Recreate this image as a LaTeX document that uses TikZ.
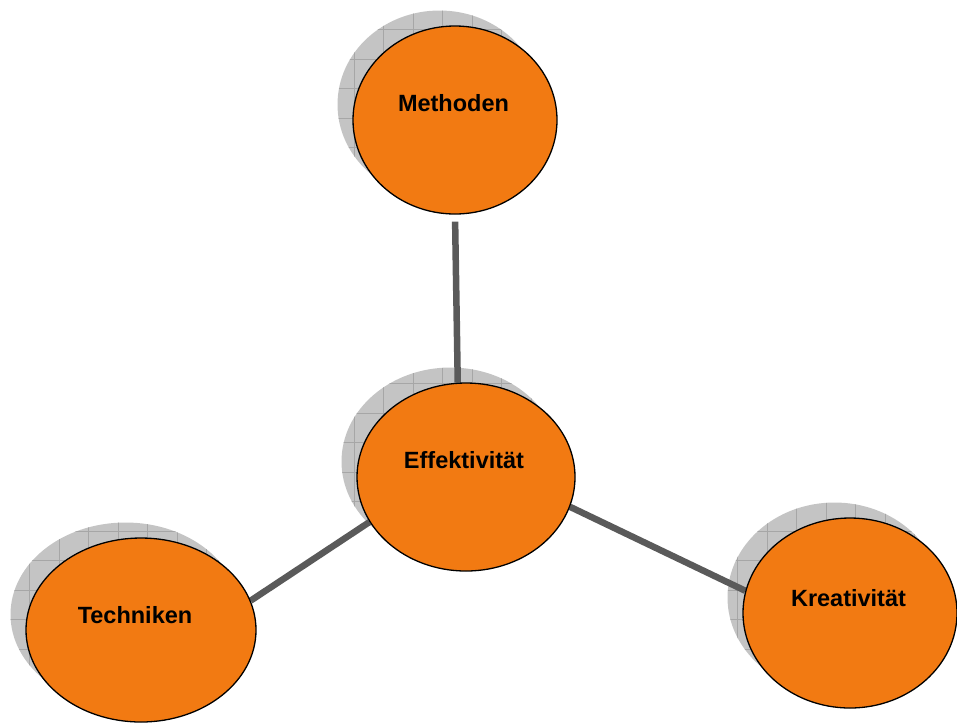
\documentclass[tikz,border=0pt]{standalone}
\usepackage{fontspec}
\setmainfont{Liberation Sans}
\usetikzlibrary{shapes.geometric}
\definecolor{bubbleorange}{HTML}{F27A12}
\definecolor{linkgray}{HTML}{5A5A5A}
\definecolor{shadegray}{HTML}{C4C4C4}
\definecolor{gridgray}{HTML}{A6A6A6}
\pgfdeclarelayer{shade}
\pgfdeclarelayer{links}
\pgfsetlayers{shade,links,main}

\begin{document}
\begin{tikzpicture}[x=1pt,y=-1pt,
  bubble/.style={ellipse, draw=black, line width=1.3pt, fill=bubbleorange, inner sep=0pt},
  caption/.style={font=\fontsize{23.5}{28}\selectfont\bfseries, inner sep=0pt},
  link/.style={draw=linkgray, line width=6.5pt}]
  \useasboundingbox (0,0) rectangle (957,724);

  % bubbles
  \node[bubble, minimum width=204, minimum height=188,
    label={[caption, xshift=-1.5pt, yshift=16.5pt]center:Methoden}] (meth) at (455,120) {};
  \node[bubble, minimum width=218, minimum height=188,
    label={[caption, xshift=-2pt, yshift=16.5pt]center:Effektivität}] (eff) at (466,477) {};
  \node[bubble, minimum width=230, minimum height=184,
    label={[caption, xshift=-6pt, yshift=15pt]center:Techniken}] (tech) at (141,630) {};
  \node[bubble, minimum width=214, minimum height=190,
    label={[caption, xshift=-1.5pt, yshift=14.5pt]center:Kreativität}] (krea) at (850,613) {};

  % shadows behind the bubbles
  \begin{pgfonlayer}{shade}
  \foreach \n/\rx/\ry in {meth/102/94, eff/109/94, tech/115/92, krea/107/95}{
    \fill[shadegray] ([shift={(-15.5,-15.5)}]\n.center) ellipse [x radius=\rx, y radius=\ry];
    \begin{scope}
      \clip ([shift={(-15.5,-15.5)}]\n.center) ellipse [x radius=\rx, y radius=\ry];
      \draw[gridgray, line width=0.6pt, xstep=29.5pt, ystep=29.5pt]
        ([shift={(-150,100)}]\n.center) grid ([shift={(110,-130)}]\n.center);
    \end{scope}
  }
  \end{pgfonlayer}

  % connectors
  \begin{pgfonlayer}{links}
  \draw[link, shorten <=7pt] (meth.south) -- (eff.95);
  \draw[link] (eff.205) -- (tech.15);
  \draw[link] (eff.-16) -- (krea.168);
  \end{pgfonlayer}
\end{tikzpicture}
\end{document}
